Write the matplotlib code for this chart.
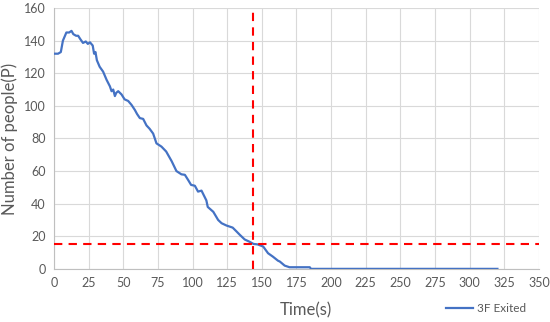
import matplotlib
matplotlib.use("Agg")
import matplotlib.pyplot as plt

plt.rcParams['font.family'] = ['Lato', 'DejaVu Sans']

time_s = [0, 3, 5, 6.5, 8, 9, 11, 12.7, 14, 16, 17.5, 19, 21, 23, 24.5, 26, 28, 29, 30, 31, 33, 35.5, 38,
          40.4, 41.6, 42.8, 44, 45, 46.4, 48.8, 51, 53.6, 56, 58.4, 60, 62, 64.4, 66.8, 69, 71.6, 74, 77.6,
          81, 85, 88.4, 92, 94.5, 96.8, 99, 101.7, 104, 106.5, 110, 111, 115, 118.5, 121, 124.5, 129,
          131.7, 134, 137.7, 141, 144, 147, 151, 154.5, 158, 161.7, 163, 166.5, 170, 178, 184.6, 185.5,
          200, 250, 300, 320]
exited_3f = [132, 132, 133, 140, 143, 145, 145, 146, 144, 143, 143, 141, 138.6, 139.5, 138, 139, 137, 132,
             133, 128, 124, 121, 116, 112, 109, 110, 106, 108, 109, 107, 104, 103, 100.6, 97.5, 95, 92.5,
             92, 88, 86, 83, 77, 75, 72, 66, 60, 58, 57.7, 54.6, 51.5, 51, 47.4, 48, 42, 38, 35, 30, 28,
             26.6, 25.3, 23, 21, 18, 16.7, 15.3, 15, 13.7, 9.6, 7.5, 5, 4.5, 2, 1, 1, 1, 0,
             0, 0, 0, 0]

ref_time = 144
ref_people = 15.5

x_ticks = list(range(0, 351, 25))
y_ticks = list(range(0, 161, 20))

fig = plt.figure(figsize=(5.5, 3.22), dpi=100)
ax = fig.add_axes([0.098, 0.165, 0.882, 0.81])

ax.plot(time_s, exited_3f, color='#4472C4', lw=1.6, label='3F Exited', zorder=3)
ax.axvline(ref_time, color='#FF0000', lw=1.5, ls=(0, (4, 3)), zorder=4)
ax.axhline(ref_people, color='#FF0000', lw=1.5, ls=(0, (4, 3)), zorder=4)

ax.set_xlim(0, 350)
ax.set_ylim(0, 160)
ax.set_xticks(x_ticks)
ax.set_yticks(y_ticks)
ax.grid(True, color='#D9D9D9', lw=0.8, zorder=0)
ax.set_axisbelow(True)
for s in ['top', 'right']:
    ax.spines[s].set_visible(False)
for s in ['left', 'bottom']:
    ax.spines[s].set_color('#BFBFBF')
    ax.spines[s].set_linewidth(0.8)
ax.tick_params(length=0, labelsize=9, colors='#595959', pad=6)

ax.set_xlabel('Time(s)', fontsize=12, color='#595959')
ax.xaxis.set_label_coords(0.52, -0.13)
ax.set_ylabel('Number of people(P)', fontsize=12, color='#595959', labelpad=4)

leg = ax.legend(loc='lower right', bbox_to_anchor=(0.995, -0.215), frameon=False, fontsize=8.5,
                handlelength=2.3, handletextpad=0.3, labelcolor='#595959')

fig.savefig('out.png', dpi=100)
